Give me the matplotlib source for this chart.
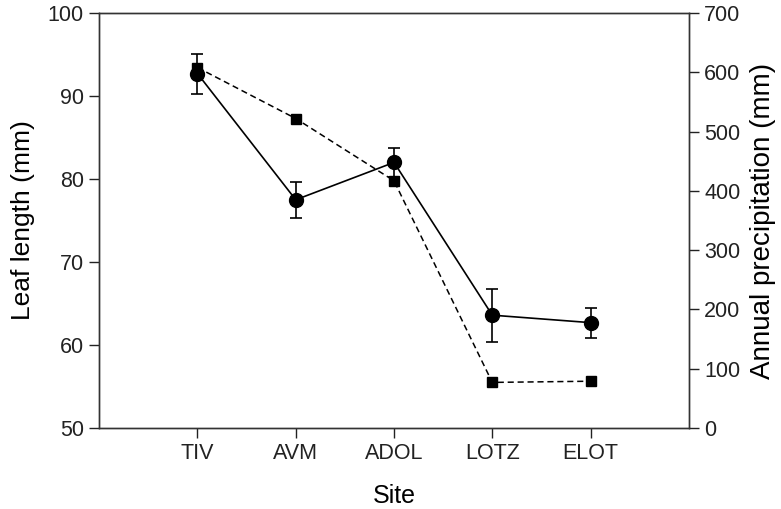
import matplotlib
matplotlib.use('Agg')
from matplotlib import pyplot as plt
import numpy as np

plt.rcParams['font.family'] = ['Liberation Sans', 'DejaVu Sans']

sites = ['TIV', 'AVM', 'ADOL', 'LOTZ', 'ELOT']
leaf_len = [92.7, 77.5, 82.0, 63.6, 62.7]
leaf_err = [2.4, 2.2, 1.7, 3.2, 1.8]
precip = [608, 522, 417, 77, 79]

x = np.arange(1, len(sites) + 1)

fig = plt.figure(figsize=(7.81, 5.09), dpi=100)
ax = fig.add_axes([0.127, 0.159, 0.755, 0.8155])
ax2 = ax.twinx()

ax.errorbar(x, leaf_len, yerr=leaf_err, color='k', marker='o', ms=10,
            lw=1.2, elinewidth=1.2, capsize=4, capthick=1.2, zorder=3)
ax2.plot(x, precip, color='k', ls='--', marker='s', ms=7, lw=1.1,
         dashes=(4, 2.5))

ax.set_xlim(0, 6)
ax.set_ylim(50, 100)
ax2.set_ylim(0, 700)
ax.set_xticks(x)
ax.set_xticklabels(sites)
ax.set_yticks(np.arange(50, 101, 10))
ax2.set_yticks(np.arange(0, 701, 100))

for a in (ax, ax2):
    a.tick_params(labelsize=15.5, length=7, width=1, colors='#222222',
                  direction='out', pad=4)
    for s in a.spines.values():
        s.set_color('#333333')
        s.set_linewidth(1)

ax.set_xlabel('Site', fontsize=18, labelpad=14)
ax.set_ylabel('Leaf length (mm)', fontsize=19, labelpad=9)
ax2.set_ylabel('Annual precipitation (mm)', fontsize=20, labelpad=7)

fig.savefig('out.png', dpi=100)
